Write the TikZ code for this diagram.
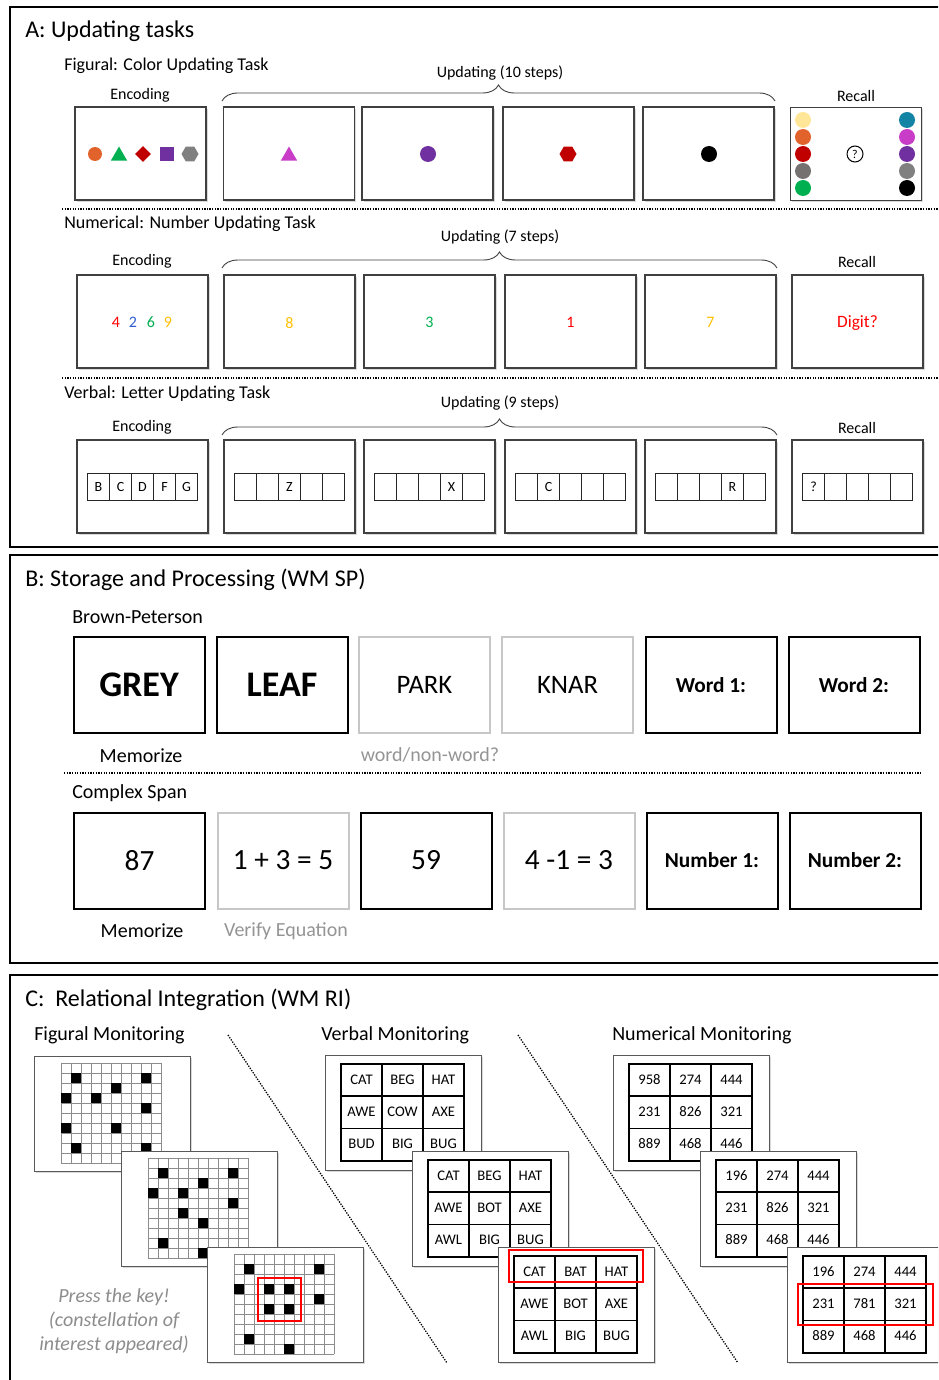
\documentclass[tikz,border=0pt]{standalone}
\usepackage{fontspec}
\setmainfont{Carlito}
\usetikzlibrary{shapes.geometric,shadows,decorations.pathreplacing}

\newcommand{\px}{0.75pt}
\newcommand{\fsz}[1]{\fontsize{#1}{#1}\selectfont}

\definecolor{orng}{HTML}{E2622B}
\definecolor{grn}{HTML}{00B050}
\definecolor{dred}{HTML}{C00000}
\definecolor{purp}{HTML}{7030A0}
\definecolor{gry}{HTML}{808080}
\definecolor{dgry}{HTML}{767171}
\definecolor{mgnt}{HTML}{C83CC8}
\definecolor{lyel}{HTML}{FFE699}
\definecolor{petrol}{HTML}{1484A4}
\definecolor{digblue}{HTML}{2F5FD0}
\definecolor{gold}{HTML}{FFC000}

% figural monitoring frame: name, x, y, black cells
\newcommand{\dotframe}[4]{%
  \node[cframe] (#1) at (#2,#3) {};
  \foreach \g in {0,...,10} {
    \draw[gridln] (#2+27+10*\g,#3+7) -- ++(0,100);
    \draw[gridln] (#2+27,#3+7+10*\g) -- ++(100,0);
  }
  \foreach \c/\r in {#4}
    \fill (#2+27+10*\c,#3+7+10*\r) rectangle ++(10,10);
}
% verbal / numerical monitoring frame: name, x, y, entries
\newcommand{\wordframe}[4]{%
  \node[cframe] (#1) at (#2,#3) {};
  \foreach \w [count=\i from 0] in {#4} {
    \pgfmathtruncatemacro{\tc}{mod(\i,3)}
    \pgfmathtruncatemacro{\tr}{div(\i,3)}
    \node[tcell] (#1-\i) at (#2+36.5+41*\tc, #3+25+32.3*\tr) {\w};
  }
}

\begin{document}
\begin{tikzpicture}[x=0.75pt, y=-0.75pt,
    panel/.style={line width=1.5*\px},
    head/.style={anchor=west, inner sep=0pt, font=\fsz{18}},
    sub/.style={anchor=west, inner sep=0pt, font=\fsz{13.5}},
    subb/.style={anchor=west, inner sep=0pt, font=\fsz{15}},
    lbl/.style={inner sep=0pt, font=\fsz{12}},
    note/.style={inner sep=0pt, font=\fsz{15}},
    sep/.style={densely dotted, line width=1.3*\px},
    brace/.style={decorate, decoration={brace, amplitude=12pt}, draw=black!75, line width=0.9*\px},
    screen/.style={draw=black!75, line width=1.1*\px, fill=white, minimum width=131*\px,
      minimum height=93*\px, inner sep=0pt,
      drop shadow={shadow xshift=1.2pt, shadow yshift=-1.2pt, opacity=0.3}},
    dot/.style={circle, inner sep=0pt, minimum size=14*\px},
    tri/.style={regular polygon, regular polygon sides=3, inner sep=0pt, minimum size=19*\px},
    dia/.style={diamond, inner sep=0pt, minimum size=16*\px},
    sq/.style={rectangle, inner sep=0pt, minimum size=14*\px},
    hex/.style={regular polygon, regular polygon sides=6, inner sep=0pt, minimum size=17*\px},
    digit/.style={inner sep=0pt, font=\fsz{12}},
    cell/.style={draw=black!85, line width=0.9*\px, minimum width=22*\px, minimum height=27*\px,
      inner sep=0pt, font=\fsz{10.5}},
    card/.style={draw, line width=2*\px, minimum width=131*\px, minimum height=96*\px, inner sep=0pt},
    faint/.style={card, draw=black!22},
    cframe/.style={draw=black!65, line width=1.2*\px, fill=white, anchor=north west,
      minimum width=156*\px, minimum height=115*\px, inner sep=0pt,
      drop shadow={shadow xshift=1pt, shadow yshift=-1pt, opacity=0.3}},
    gridln/.style={draw=black!45, line width=0.8*\px},
    tcell/.style={draw, line width=1.8*\px, minimum width=41*\px, minimum height=32.3*\px,
      inner sep=0pt, text height=1.6ex, text depth=0.3ex, font=\fsz{11}},
    hilite/.style={draw=red, line width=1.6*\px}]

  \path[use as bounding box, clip] (0,0) rectangle (938,1380);

  % A: updating tasks
  \draw[panel] (10,7) rectangle (960,547);
  \node[head] (titleA) at (25,31) {A: Updating tasks};

  % figural
  \node[sub] (fig-title) at (64,66) {Figural: Color Updating Task};
  \node[lbl] (fig-enc) at (140,95) {Encoding};
  \node[lbl] (fig-upd) at (500,73) {Updating (10 steps)};
  \node[lbl] (fig-rec) at (856,96) {Recall};
  \draw[brace] (222,101) -- (775,101);
  \node[screen] (fig-box-0) at (140.5,153.5) {};
  \foreach \x [count=\i] in {289,427.5,568.5,708.5}
    \node[screen] (fig-box-\i) at (\x,153.5) {};
  \node[screen] (fig-box-5) at (856,154) {};

  \node[dot, fill=orng] (fig-s1) at (95,154) {};
  \node[tri, fill=grn] (fig-s2) at (119,156) {};
  \node[dia, fill=dred] (fig-s3) at (143,154) {};
  \node[sq, fill=purp] (fig-s4) at (167,154) {};
  \node[hex, fill=gry] (fig-s5) at (190,154) {};

  \node[tri, fill=mgnt] (fig-u1) at (289,156) {};
  \node[dot, fill=purp, minimum size=16*\px] (fig-u2) at (428,154) {};
  \node[hex, fill=dred] (fig-u3) at (568,154) {};
  \node[dot, fill=black, minimum size=16*\px] (fig-u4) at (709,154) {};

  \foreach \c [count=\i from 0] in {lyel,orng,dred,dgry,grn}
    \node[dot, fill=\c, minimum size=16*\px] (rec-l-\i) at (803,120+17*\i) {};
  \foreach \c [count=\i from 0] in {petrol,mgnt,purp,gry,black}
    \node[dot, fill=\c, minimum size=16*\px] (rec-r-\i) at (907,120+17*\i) {};
  \node[circle, draw, line width=1*\px, inner sep=0pt, minimum size=16*\px, font=\fsz{9}] (rec-q) at (855,154) {?};

  % numerical
  \draw[sep] (62,209) -- (950,209);
  \node[sub] (num-title) at (64,224) {Numerical: Number Updating Task};
  \node[lbl] (num-enc) at (142,261) {Encoding};
  \node[lbl] (num-upd) at (500,237) {Updating (7 steps)};
  \node[lbl] (num-rec) at (857,262) {Recall};
  \draw[brace] (222,268) -- (777,268);
  \foreach \x [count=\i from 0] in {142.5,289.5,429.5,570.5,710.5,857.5}
    \node[screen] (num-box-\i) at (\x,321.5) {};

  \node[digit, text=red] (num-d1) at (116,322) {4};
  \node[digit, text=digblue] (num-d2) at (133,322) {2};
  \node[digit, text=grn] (num-d3) at (151,322) {6};
  \node[digit, text=gold] (num-d4) at (168,322) {9};
  \node[digit, text=gold] at ([yshift=-1pt]num-box-1) {8};
  \node[digit, text=grn] at ([yshift=-1pt]num-box-2) {3};
  \node[digit, text=red] at ([yshift=-1pt]num-box-3) {1};
  \node[digit, text=gold] at ([yshift=-1pt]num-box-4) {7};
  \node[digit, text=red, font=\fsz{13}] at ([yshift=-1pt]num-box-5) {Digit?};

  % verbal
  \draw[sep] (62,378) -- (950,378);
  \node[sub] (let-title) at (64,394) {Verbal: Letter Updating Task};
  \node[lbl] (let-enc) at (142,427) {Encoding};
  \node[lbl] (let-upd) at (500,403) {Updating (9 steps)};
  \node[lbl] (let-rec) at (857,428) {Recall};
  \draw[brace] (222,435) -- (777,435);
  \foreach \x [count=\i from 0] in {142.5,289.5,429.5,570.5,710.5,857.5} {
    \node[screen] (let-box-\i) at (\x,486.5) {};
    \foreach \j in {0,...,4}
      \node[cell] (let-\i-\j) at (\x-44+22*\j,487) {};
  }
  \foreach \l [count=\j from 0] in {B,C,D,F,G}
    \node[font=\fsz{10.5}] at (let-0-\j) {\l};
  \node[font=\fsz{10.5}] at (let-1-2) {Z};
  \node[font=\fsz{10.5}] at (let-2-3) {X};
  \node[font=\fsz{10.5}] at (let-3-1) {C};
  \node[font=\fsz{10.5}] at (let-4-3) {R};
  \node[font=\fsz{10.5}] at (let-5-0) {?};

  % B: storage and processing
  \draw[panel] (10,555) rectangle (960,963);
  \node[head] (titleB) at (25,580) {B: Storage and Processing (WM SP)};
  \node[subb] (bp-title) at (72,617) {Brown-Peterson};
  \node[card, font=\fsz{27}\bfseries] (bp-1) at (139,685) {GREY};
  \node[card, font=\fsz{27}\bfseries] (bp-2) at (282,685) {LEAF};
  \node[faint, font=\fsz{20}] (bp-3) at (424.5,685) {PARK};
  \node[faint, font=\fsz{20}] (bp-4) at (567.5,685) {KNAR};
  \node[card, font=\fsz{16}\bfseries] (bp-5) at (711,685) {Word 1:};
  \node[card, font=\fsz{16}\bfseries] (bp-6) at (854,685) {Word 2:};
  \node[note] (bp-mem) at (141,756) {Memorize};
  \node[note, text=black!42] (bp-lex) at (430,755) {word/non-word?};

  \draw[sep] (64,773) -- (921,773);
  \node[subb] (cs-title) at (72,793) {Complex Span};
  \node[card, font=\fsz{22}] (cs-1) at (139.5,860.5) {87};
  \node[faint, font=\fsz{22}] (cs-2) at (283,860.5) {1 + 3 = 5};
  \node[card, font=\fsz{22}] (cs-3) at (426,860.5) {59};
  \node[faint, font=\fsz{22}] (cs-4) at (569,860.5) {4 -1 = 3};
  \node[card, font=\fsz{16}\bfseries] (cs-5) at (712,860.5) {Number 1:};
  \node[card, font=\fsz{16}\bfseries] (cs-6) at (855,860.5) {Number 2:};
  \node[note] (cs-mem) at (142,931) {Memorize};
  \node[note, text=black!42] (cs-ver) at (286,931) {Verify Equation};

  % C: relational integration
  \draw[panel] (10,975) rectangle (960,1400);
  \node[head] (titleC) at (25,1000) {C:\ \ Relational Integration (WM RI)};
  \node[subb] (fm-title) at (34,1035) {Figural Monitoring};
  \node[subb] (vm-title) at (321,1035) {Verbal Monitoring};
  \node[subb] (nm-title) at (612,1035) {Numerical Monitoring};
  \draw[sep] (228,1035) -- (447,1363);
  \draw[sep] (518,1035) -- (738,1363);

  \dotframe{fm-1}{34}{1056}{1/1,8/1,5/2,0/3,3/3,8/4,0/6,5/6,1/8,8/8}
  \dotframe{fm-2}{121}{1151}{1/1,8/1,5/2,0/3,3/3,8/4,3/5,5/6,1/8,5/9}
  \dotframe{fm-3}{207}{1247}{1/1,8/1,0/3,3/3,5/3,8/4,3/5,5/5,1/8,5/9}
  \draw[hilite] (258,1278) rectangle (301,1321);
  \node[note, text=black!45, font=\fsz{15}\itshape, align=center] (fm-key) at (114,1321)
    {Press the key!\\[3pt](constellation of\\[3pt]interest appeared)};

  \wordframe{vm-1}{325}{1055}{CAT,BEG,HAT,AWE,COW,AXE,BUD,BIG,BUG}
  \wordframe{vm-2}{412}{1151}{CAT,BEG,HAT,AWE,BOT,AXE,AWL,BIG,BUG}
  \wordframe{vm-3}{498}{1247}{CAT,BAT,HAT,AWE,BOT,AXE,AWL,BIG,BUG}
  \draw[hilite] (509,1250) rectangle (643,1282);

  \wordframe{nm-1}{613}{1055}{958,274,444,231,826,321,889,468,446}
  \wordframe{nm-2}{700}{1151}{196,274,444,231,826,321,889,468,446}
  \wordframe{nm-3}{787}{1247}{196,274,444,231,781,321,889,468,446}
  \draw[hilite] (798,1284) rectangle (933,1325);
\end{tikzpicture}
\end{document}
